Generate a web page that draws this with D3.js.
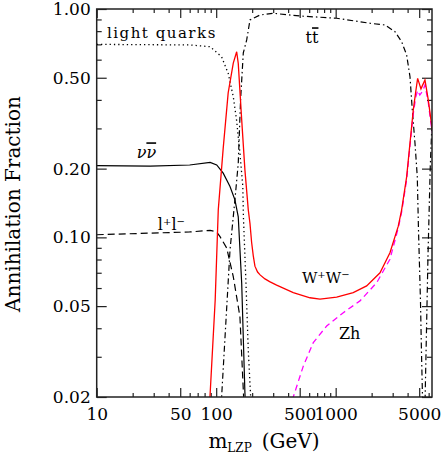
<!DOCTYPE html>
<html>
<head>
<meta charset="utf-8">
<script src="https://cdn.jsdelivr.net/npm/d3@7"></script>
<style>
  body { margin: 0; background: #fff; }
  text { font-family: "DejaVu Serif", serif; fill: #000; }
</style>
</head>
<body>
<div id="canvas"></div>
<script>
const w = 443, h = 456;

// channel fractions, [mass GeV, fraction]
const lightQuarks = [[10,0.700],[60,0.696],[89,0.684],[111,0.618],[126,0.523],[139,0.413],[148,0.327],[158,0.234],[167,0.167],[169,0.123],[177.5,0.063],[185.6,0.032],[194.4,0.020],[200,0.015]];
const nuNu = [[10,0.206],[28,0.205],[60,0.2075],[89,0.213],[101,0.2075],[114.5,0.191],[130.5,0.167],[143.5,0.146],[153,0.123],[163.5,0.063],[174,0.0208],[177,0.017]];
const lepLep = [[10,0.1027],[60,0.1056],[89,0.1073],[101,0.1056],[107.7,0.1007],[122.4,0.0899],[139,0.0673],[158,0.045],[168.6,0.0215],[172,0.017]];
const topTop = [[108,0.016],[111,0.02],[130.5,0.088],[143.5,0.146],[153,0.211],[160,0.40],[168.6,0.642],[180,0.732],[191.8,0.895],[232.6,0.941],[298.5,0.958],[502,0.932],[1019,0.911],[1936,0.866],[2586,0.851],[3134,0.796],[3565,0.719],[3926,0.629],[4188,0.505],[4378,0.361],[4610,0.259],[4820,0.184],[4933,0.108],[5124,0.053],[5222,0.032],[5325,0.0204],[5360,0.015],[5567,0.016],[5623,0.0215],[5697,0.030],[5921,0.082],[6189,0.204],[6397,0.317]];
const wPwM = [[87,0.016],[88.7,0.02],[98.1,0.0532],[104.1,0.132],[114.5,0.246],[126,0.429],[139,0.580],[148.4,0.650],[153,0.578],[163.5,0.327],[174,0.197],[185.6,0.132],[191.8,0.115],[198,0.095],[204.4,0.083],[211,0.0748],[222,0.0705],[233,0.0685],[256,0.0658],[280,0.064],[320.6,0.0618],[441.6,0.0573],[609.7,0.0544],[739,0.0537],[1019,0.0548],[1403,0.0573],[1816,0.0613],[2350,0.070],[2846,0.0857],[3342,0.112],[3565,0.132],[3926,0.184],[4188,0.259],[4461,0.361],[4673,0.433],[4853,0.497],[5173,0.447],[5588,0.489],[5957,0.400],[6350,0.311],[6500,0.29]];
const zh = [[414.6,0.0176],[441.6,0.02],[535.8,0.0273],[649.4,0.0346],[840.8,0.0409],[1158,0.0468],[1597,0.0527],[2203,0.0633],[2846,0.0802],[3342,0.110],[3565,0.129],[3926,0.179],[4188,0.252],[4461,0.347],[4673,0.41],[4853,0.44],[5060,0.42],[5380,0.44],[5588,0.465],[5957,0.39],[6350,0.30],[6500,0.28]];

const xMajor = [10, 50, 100, 500, 1000, 5000];
const xMinor = [20,30,40,60,70,80,90,200,300,400,600,700,800,900,2000,3000,4000,6000];
const yMajor = [0.02, 0.05, 0.1, 0.2, 0.5, 1];
const yMinor = [0.03,0.04,0.06,0.07,0.08,0.09,0.3,0.4,0.6,0.7,0.8,0.9];
const yLabels = ["0.02", "0.05", "0.10", "0.20", "0.50", "1.00"];

const pLeft = 96.7, pRight = 432, pTop = 9, pBottom = 397;

let svg = d3.select("#canvas")
            .append("svg")
                .attr("width", w)
                .attr("height", h)
                .attr("viewBox", [0, 0, w, h]);

let x = d3.scaleLog().domain([10, 6400]).range([pLeft, pRight]);
let y = d3.scaleLog().domain([0.02, 1]).range([pBottom, pTop]);

svg.append("clipPath").attr("id", "clip")
    .append("rect")
        .attr("x", pLeft).attr("y", pTop)
        .attr("width", pRight - pLeft).attr("height", pBottom - pTop);

// ticks, all pointing inward
function tickAxis(axis, transform, labelled) {
    let g = svg.append("g").attr("transform", transform).call(axis);
    g.select(".domain").remove();
    g.selectAll("line").attr("stroke", "#222").attr("stroke-width", 1.2);
    g.selectAll("text").style("font-size", "17px").attr("font-family", null);
    if (!labelled) g.selectAll("text").remove();
    return g;
}

let gX = tickAxis(d3.axisBottom(x).tickValues(xMajor).tickSize(-9).tickPadding(10).tickFormat(d3.format("d")),
    "translate(0," + pBottom + ")", true);
tickAxis(d3.axisBottom(x).tickValues(xMinor).tickSize(-4), "translate(0," + pBottom + ")", false);
tickAxis(d3.axisTop(x).tickValues(xMajor).tickSize(-9), "translate(0," + pTop + ")", false);
tickAxis(d3.axisTop(x).tickValues(xMinor).tickSize(-4), "translate(0," + pTop + ")", false);

let gY = tickAxis(d3.axisLeft(y).tickValues(yMajor).tickSize(-10).tickPadding(6)
    .tickFormat((d, i) => yLabels[i]), "translate(" + pLeft + ",0)", true);
tickAxis(d3.axisLeft(y).tickValues(yMinor).tickSize(-5), "translate(" + pLeft + ",0)", false);
tickAxis(d3.axisRight(y).tickValues(yMajor).tickSize(-10), "translate(" + pRight + ",0)", false);
tickAxis(d3.axisRight(y).tickValues(yMinor).tickSize(-5), "translate(" + pRight + ",0)", false);

gX.selectAll("text").attr("y", 10).attr("dy", "0.78em");

// curves
let line = d3.line().x(d => x(d[0])).y(d => y(d[1]));
let curves = svg.append("g").attr("clip-path", "url(#clip)").attr("fill", "none");

function curve(data, color, dash, width) {
    curves.append("path")
        .datum(data)
        .attr("d", line)
        .attr("stroke", color)
        .attr("stroke-width", width)
        .attr("stroke-dasharray", dash);
}

curve(lightQuarks, "#000", "1.3,3", 1.3);
curve(nuNu, "#000", null, 1.2);
curve(lepLep, "#000", "7,4", 1.2);
curve(topTop, "#000", "6,3,1.5,3", 1.2);
curve(zh, "#ff00ff", "6,4", 1.3);
curve(wPwM, "#ff0000", null, 1.3);

// frame
svg.append("rect")
    .attr("x", pLeft).attr("y", pTop)
    .attr("width", pRight - pLeft).attr("height", pBottom - pTop)
    .attr("fill", "none").attr("stroke", "#222").attr("stroke-width", 1.5);

// curve labels
function label(m, f, size) {
    return svg.append("text")
        .attr("x", x(m)).attr("y", y(f))
        .style("font-size", size + "px");
}
function sup(t, s) {
    t.append("tspan").attr("baseline-shift", "super").style("font-size", "10px").text(s);
}

label(12.2, 0.75, 15).style("letter-spacing", "1.5px").text("light quarks");

let tt = label(560, 0.708, 16);
tt.append("tspan").text("t");
tt.append("tspan").style("text-decoration", "overline").text("t");

let nn = label(21.6, 0.222, 16).style("font-style", "italic");
nn.append("tspan").text("ν");
nn.append("tspan").style("text-decoration", "overline").text("ν");

let ll = label(32.5, 0.108, 16);
ll.append("tspan").text("l");
sup(ll, "+");
ll.append("tspan").text("l");
sup(ll, "−");

let ww = label(522, 0.063, 15);
ww.append("tspan").text("W");
sup(ww, "+");
ww.append("tspan").text("W");
sup(ww, "−");

label(1066, 0.0358, 16).text("Zh");

// axis titles
let xt = svg.append("text")
    .attr("x", 264).attr("y", 448)
    .attr("text-anchor", "middle")
    .style("font-size", "20px");
xt.append("tspan").text("m");
xt.append("tspan").attr("baseline-shift", "-4").style("font-size", "12px").text("LZP");
xt.append("tspan").attr("dx", 10).text("(GeV)");

svg.append("text")
    .attr("transform", "translate(20,204) rotate(-90)")
    .attr("text-anchor", "middle")
    .style("font-size", "20px")
    .text("Annihilation Fraction");
</script>
</body>
</html>
